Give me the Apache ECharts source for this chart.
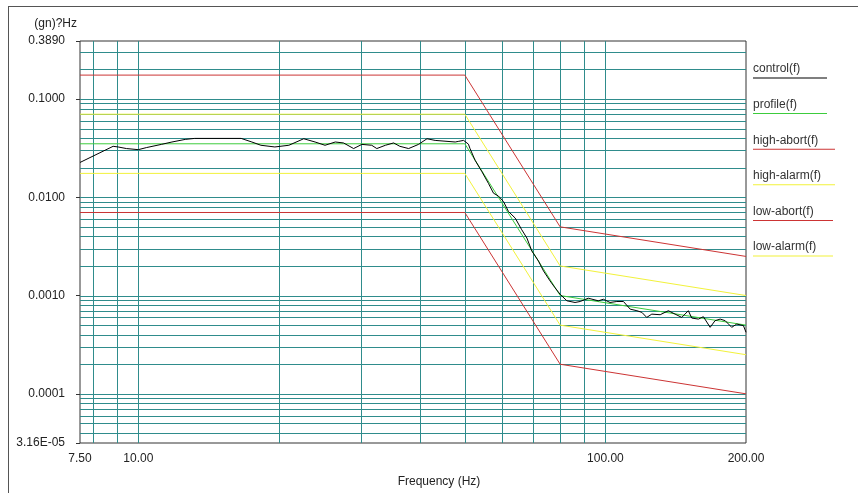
<!DOCTYPE html>
<html>
<head>
<meta charset="utf-8">
<script src="https://cdn.jsdelivr.net/npm/echarts@6/dist/echarts.min.js"></script>
<style>
  html, body { margin: 0; padding: 0; background: #fff; }
  #chart { position: absolute; left: 0; top: 0; width: 858px; height: 493px; }
  #frame {
    position: absolute; left: 8px; top: 6px; width: 900px; height: 600px;
    border-top: 1px solid #555; border-left: 1px solid #555;
    pointer-events: none;
  }
</style>
</head>
<body>
<div id="chart"></div>
<div id="frame"></div>
<script>
// frequency (Hz), level (gn)²/Hz
const controlData = [
  [7.5, 0.0226], [8.83, 0.0330], [9.05, 0.0325], [9.43, 0.0313], [10.0, 0.0305],
  [10.4, 0.0320], [11.2, 0.0345], [11.8, 0.0365], [12.6, 0.0388], [13.2, 0.0397],
  [16.6, 0.0397], [17.5, 0.0365], [18.3, 0.0338], [19.6, 0.0325], [21.0, 0.0338],
  [22.6, 0.0394], [23.9, 0.0365], [25.1, 0.0338], [26.4, 0.0365], [27.5, 0.0357],
  [28.9, 0.0313], [30.1, 0.0345], [31.6, 0.0338], [32.4, 0.0313], [33.8, 0.0338],
  [35.2, 0.0357], [36.3, 0.0330], [37.9, 0.0313], [39.8, 0.0345], [41.5, 0.0394],
  [43.2, 0.0379], [47.7, 0.0365], [48.4, 0.0370], [49.7, 0.0379], [50.9, 0.0347],
  [51.3, 0.0313], [52.6, 0.0238], [54.4, 0.0182], [56.2, 0.0138], [57.6, 0.0110],
  [59.0, 0.0103], [60.5, 0.00905], [62.0, 0.00717], [64.1, 0.00614], [66.2, 0.00467],
  [67.9, 0.00385], [69.6, 0.00283], [71.9, 0.00224], [73.7, 0.00178], [76.1, 0.00141],
  [78.0, 0.00120], [80.0, 0.00103], [82.7, 0.000884], [86.1, 0.000850], [88.3, 0.000870],
  [91.9, 0.000939], [96.6, 0.000884], [99.0, 0.000917], [102.3, 0.000850], [105.8, 0.000870],
  [109.3, 0.000870], [113.0, 0.000727], [116.8, 0.000701], [119.7, 0.000674], [122.6, 0.000599],
  [125.7, 0.000647], [131.0, 0.000638], [136.4, 0.000701], [141.0, 0.000647], [145.7, 0.000599],
  [150.5, 0.000701], [153.1, 0.000590], [158.2, 0.000576], [162.1, 0.000609], [167.6, 0.000475],
  [171.7, 0.000555], [176.1, 0.000576], [180.5, 0.000555], [186.4, 0.000475], [191.1, 0.000513],
  [197.5, 0.000494], [200, 0.000423]
];
const profileData   = [[7.5, 0.035],  [50, 0.035],  [80, 0.001],  [200, 0.0005]];
const highAbortData = [[7.5, 0.175],  [50, 0.175],  [80, 0.005],  [200, 0.0025]];
const highAlarmData = [[7.5, 0.07],   [50, 0.07],   [80, 0.002],  [200, 0.001]];
const lowAbortData  = [[7.5, 0.007],  [50, 0.007],  [80, 0.0002], [200, 0.0001]];
const lowAlarmData  = [[7.5, 0.0175], [50, 0.0175], [80, 0.0005], [200, 0.00025]];

const xMin = 7.5, xMax = 200;
const yMin = 0.0000316, yMax = 0.389;
const xGridLines = [8, 9, 10, 20, 30, 40, 50, 60, 70, 80, 90, 100];
const yGridLines = [
  0.00004, 0.00005, 0.00006, 0.00007, 0.00008, 0.00009,
  0.0001, 0.0002, 0.0003, 0.0004, 0.0005, 0.0006, 0.0007, 0.0008, 0.0009,
  0.001, 0.002, 0.003, 0.004, 0.005, 0.006, 0.007, 0.008, 0.009,
  0.01, 0.02, 0.03, 0.04, 0.05, 0.06, 0.07, 0.08, 0.09,
  0.1, 0.2, 0.3
];

const names = ['control(f)', 'profile(f)', 'high-abort(f)', 'high-alarm(f)', 'low-abort(f)', 'low-alarm(f)'];
const colors = ['#000000', '#3ccc3c', '#cc3434', '#f2f23a', '#cc3434', '#f2f23a'];
const underlineWidths = [74, 74, 82, 82, 80, 80];

const gridColor = '#2f8c8c';

let rich = { t: { fontSize: 12, color: '#333', lineHeight: 14 } };
names.forEach((n, i) => {
  rich['u' + i] = { width: underlineWidths[i], height: 1, lineHeight: 4, backgroundColor: colors[i] };
});

function lineSeries(name, data, color) {
  return {
    name: name,
    type: 'line',
    data: data,
    symbol: 'none',
    z: 3,
    lineStyle: { color: color, width: 1 },
    itemStyle: { color: color },
    animation: false
  };
}

// grid lines snapped to whole pixels so they stay crisp
function gridLineSeries(data, horizontal) {
  return {
    type: 'custom',
    data: data,
    z: 1,
    silent: true,
    animation: false,
    renderItem: function (params, api) {
      let a, b;
      if (horizontal) {
        a = api.coord([xMin, api.value(1)]);
        b = api.coord([xMax, api.value(1)]);
        let y = Math.round(a[1]) + 0.5;
        return { type: 'line', shape: { x1: a[0], y1: y, x2: b[0], y2: y },
                 style: { stroke: gridColor, lineWidth: 1 } };
      }
      a = api.coord([api.value(0), yMin]);
      b = api.coord([api.value(0), yMax]);
      let x = Math.round(a[0]) + 0.5;
      return { type: 'line', shape: { x1: x, y1: a[1], x2: x, y2: b[1] },
               style: { stroke: gridColor, lineWidth: 1 } };
    }
  };
}

let myChart = echarts.init(document.getElementById('chart'));
let options = {
  backgroundColor: '#fff',
  textStyle: { fontFamily: 'Liberation Sans, Arial, sans-serif' },
  grid: {
    left: 80, right: 112, top: 41, bottom: 46,
    show: true, borderColor: '#333', borderWidth: 1, backgroundColor: '#fff'
  },
  legend: {
    orient: 'vertical',
    left: 748, top: 63,
    padding: 0,
    icon: 'none',
    itemWidth: 0, itemHeight: 0,
    itemGap: 14.6,
    selectedMode: false,
    data: names,
    formatter: function (name) {
      let i = names.indexOf(name);
      return '{t|' + name + '}\n{u' + i + '|}';
    },
    textStyle: { rich: rich }
  },
  xAxis: {
    type: 'log',
    logBase: 10,
    min: xMin,
    max: xMax,
    name: 'Frequency (Hz)',
    nameLocation: 'middle',
    nameGap: 33,
    nameTextStyle: { fontSize: 12, color: '#222', padding: [0, 0, 0, 52] },
    axisLine: { show: false },
    axisTick: { show: false },
    splitLine: { show: false },
    axisLabel: {
      fontSize: 12, color: '#222', margin: 10,
      formatter: v => v.toFixed(2)
    }
  },
  yAxis: {
    type: 'log',
    logBase: 10,
    min: yMin,
    max: yMax,
    name: '(gn)?Hz',
    nameGap: 11,
    nameTextStyle: { fontSize: 12, color: '#222', align: 'right', padding: [0, 3, 0, 0] },
    axisLine: { show: false },
    axisTick: { show: true, length: 4, lineStyle: { color: '#333' } },
    splitLine: { show: false },
    axisLabel: {
      fontSize: 12, color: '#222', margin: 15,
      formatter: v => (v < 0.00005 ? '3.16E-05' : v.toFixed(4))
    }
  },
  series: [
    gridLineSeries(yGridLines.map(v => [xMin, v]), true),
    gridLineSeries(xGridLines.map(v => [v, yMin]), false),
    lineSeries('low-alarm(f)', lowAlarmData, colors[5]),
    lineSeries('high-alarm(f)', highAlarmData, colors[3]),
    lineSeries('low-abort(f)', lowAbortData, colors[4]),
    lineSeries('high-abort(f)', highAbortData, colors[2]),
    lineSeries('profile(f)', profileData, colors[1]),
    lineSeries('control(f)', controlData, colors[0])
  ]
};
myChart.setOption(options);
</script>
</body>
</html>
